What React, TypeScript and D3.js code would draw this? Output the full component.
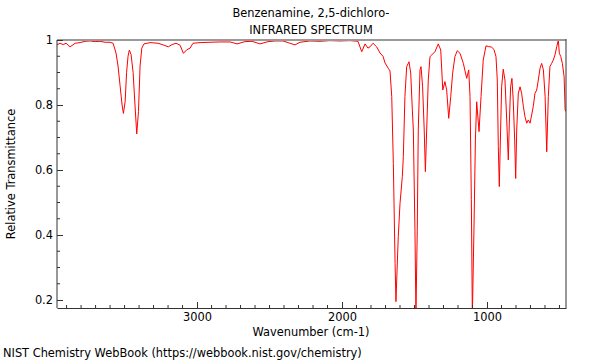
import React, { useEffect, useRef } from 'react';
import * as d3 from 'd3';

const TITLE_LINES = ['Benzenamine, 2,5-dichloro-', 'INFRARED SPECTRUM'];
const X_LABEL = 'Wavenumber (cm-1)';
const Y_LABEL = 'Relative Transmittance';
const FOOTER = 'NIST Chemistry WebBook (https://webbook.nist.gov/chemistry)';

const X_TICKS = [3000, 2000, 1000];
const Y_TICKS = [0.2, 0.4, 0.6, 0.8, 1];

// wavenumber (cm-1)
const WAVENUMBERS = [
  3966, 3945, 3924, 3903, 3876, 3841, 3807, 3772, 3738, 3703, 3669, 3634, 3600, 3579, 3559, 3545,
  3531, 3517, 3508, 3496, 3486, 3476, 3467, 3455, 3441, 3428, 3416, 3404, 3393, 3381, 3366, 3324,
  3269, 3234, 3198, 3172, 3145, 3117, 3094, 3071, 3048, 3028, 2979, 2910, 2841, 2772, 2724, 2669,
  2621, 2566, 2510, 2462, 2407, 2359, 2324, 2290, 2221, 2152, 2083, 2014, 1945, 1890, 1864, 1841,
  1821, 1807, 1786, 1761, 1738, 1717, 1703, 1681, 1669, 1657, 1646, 1634, 1628, 1612, 1600, 1584,
  1577, 1566, 1554, 1538, 1526, 1515, 1508, 1497, 1490, 1481, 1474, 1462, 1455, 1444, 1433, 1425,
  1416, 1405, 1393, 1381, 1359, 1336, 1319, 1305, 1290, 1278, 1264, 1250, 1237, 1221, 1205, 1186,
  1163, 1140, 1126, 1117, 1108, 1101, 1090, 1080, 1071, 1055, 1041, 1026, 1007, 991, 968, 952,
  938, 929, 922, 915, 906, 899, 888, 876, 864, 853, 846, 837, 828, 819, 809, 802,
  795, 784, 772, 761, 749, 738, 726, 715, 703, 692, 681, 669, 657, 646, 634, 623,
  611, 599, 588, 577, 566, 554, 543, 531, 519, 508, 501, 491, 480, 468, 461, 455,
];

// relative transmittance at each wavenumber above
const TRANSMITTANCE = [
  0.985, 0.99, 0.986, 0.99, 0.979, 0.99, 0.992, 0.996, 0.997, 0.995, 0.996, 0.993, 0.993, 0.99, 0.96, 0.92,
  0.86, 0.8, 0.774, 0.81, 0.9, 0.95, 0.969, 0.955, 0.9, 0.8, 0.711, 0.78, 0.92, 0.975, 0.988, 0.992,
  0.99, 0.985, 0.979, 0.986, 0.99, 0.984, 0.959, 0.97, 0.975, 0.99, 0.992, 0.993, 0.994, 0.994, 0.988, 0.995,
  0.996, 0.988, 0.995, 0.997, 0.997, 0.99, 0.985, 0.993, 0.997, 0.996, 0.998, 0.997, 0.998, 0.996, 0.964, 0.988,
  0.975, 0.979, 0.99, 0.979, 0.96, 0.95, 0.929, 0.913, 0.905, 0.826, 0.62, 0.313, 0.195, 0.395, 0.497, 0.58,
  0.641, 0.826, 0.918, 0.933, 0.898, 0.785, 0.723, 0.415, 0.16, 0.415, 0.723, 0.908, 0.918, 0.856, 0.723, 0.595,
  0.723, 0.877, 0.949, 0.954, 0.964, 0.988, 0.969, 0.846, 0.872, 0.846, 0.759, 0.826, 0.898, 0.949, 0.967, 0.959,
  0.928, 0.882, 0.908, 0.826, 0.51, 0.15, 0.415, 0.692, 0.81, 0.718, 0.826, 0.938, 0.982, 0.98, 0.978, 0.971,
  0.949, 0.877, 0.672, 0.549, 0.723, 0.856, 0.91, 0.877, 0.754, 0.631, 0.744, 0.856, 0.882, 0.815, 0.692, 0.574,
  0.723, 0.836, 0.856, 0.836, 0.795, 0.764, 0.744, 0.754, 0.744, 0.769, 0.795, 0.836, 0.846, 0.877, 0.913, 0.928,
  0.908, 0.826, 0.656, 0.826, 0.918, 0.928, 0.938, 0.954, 0.979, 1.0, 0.959, 0.949, 0.928, 0.887, 0.785, 0.78,
];

const WIDTH = 600;
const HEIGHT = 360;
const PLOT = { left: 57, right: 566, top: 40, bottom: 308 };
const FONT = 'DejaVu Sans, sans-serif';
const FS = 11.4;

const App = () => {
  const svgRef = useRef<SVGSVGElement | null>(null);

  useEffect(() => {
    if (!svgRef.current) return;
    const svg = d3.select(svgRef.current);
    svg.selectAll('*').remove();

    const xScale = d3.scaleLinear().domain([3966, 455]).range([PLOT.left, PLOT.right]);
    const yScale = d3.scaleLinear().domain([0.2, 1]).range([300, 40]);

    // clip so deep bands get cut at the frame
    svg.append('defs').append('clipPath').attr('id', 'plot-clip')
      .append('rect')
      .attr('x', PLOT.left)
      .attr('y', PLOT.top)
      .attr('width', PLOT.right - PLOT.left)
      .attr('height', PLOT.bottom - PLOT.top);

    const points = WAVENUMBERS.map((w, i) => [w, TRANSMITTANCE[i]] as [number, number]);
    const line = d3.line<[number, number]>()
      .x(d => xScale(d[0]))
      .y(d => yScale(d[1]));

    svg.append('path')
      .datum(points)
      .attr('clip-path', 'url(#plot-clip)')
      .attr('fill', 'none')
      .attr('stroke', '#ff0000')
      .attr('stroke-width', 1)
      .attr('d', line);

    // frame: gray top, dark right/left/bottom
    svg.append('line')
      .attr('x1', PLOT.left).attr('x2', PLOT.right)
      .attr('y1', PLOT.top).attr('y2', PLOT.top)
      .attr('stroke', '#9a9a9a').attr('stroke-width', 2);
    svg.append('line')
      .attr('x1', PLOT.right).attr('x2', PLOT.right)
      .attr('y1', PLOT.top - 1).attr('y2', PLOT.bottom)
      .attr('stroke', '#333').attr('stroke-width', 1);

    const xAxis = d3.axisBottom(xScale)
      .tickValues(X_TICKS)
      .tickSizeInner(-6)
      .tickSizeOuter(0)
      .tickPadding(5)
      .tickFormat(d => `${d}`);
    const gx = svg.append('g')
      .attr('transform', `translate(0, ${PLOT.bottom})`)
      .call(xAxis);
    gx.select('.domain').attr('stroke', '#333');
    gx.selectAll('line').attr('stroke', '#333');
    gx.selectAll('text').attr('font-family', FONT).attr('font-size', FS).attr('fill', '#000');

    // minor x ticks every 100
    svg.append('g').selectAll('line')
      .data(d3.range(3900, 400, -100).filter(v => v % 1000 !== 0))
      .enter()
      .append('line')
      .attr('x1', d => xScale(d)).attr('x2', d => xScale(d))
      .attr('y1', PLOT.bottom).attr('y2', PLOT.bottom - 3)
      .attr('stroke', '#333');

    const yAxis = d3.axisLeft(yScale)
      .tickValues(Y_TICKS)
      .tickSizeInner(-6)
      .tickSizeOuter(0)
      .tickPadding(4)
      .tickFormat(d => `${d}`);
    const gy = svg.append('g')
      .attr('transform', `translate(${PLOT.left}, 0)`)
      .call(yAxis);
    gy.select('.domain').attr('d', `M0,${PLOT.top}V${PLOT.bottom}`).attr('stroke', '#333');
    gy.selectAll('line').attr('stroke', '#333');
    gy.selectAll('text').attr('font-family', FONT).attr('font-size', FS).attr('fill', '#000');

    // minor y ticks every 0.05
    svg.append('g').selectAll('line')
      .data(d3.range(0.25, 1, 0.05).filter(v => Math.abs(v * 5 - Math.round(v * 5)) > 0.01))
      .enter()
      .append('line')
      .attr('x1', PLOT.left).attr('x2', PLOT.left + 3)
      .attr('y1', d => yScale(d)).attr('y2', d => yScale(d))
      .attr('stroke', '#333');

    // titles and labels
    svg.append('text')
      .attr('x', 311).attr('y', 17)
      .attr('text-anchor', 'middle')
      .attr('font-family', FONT).attr('font-size', FS)
      .text(TITLE_LINES[0]);
    svg.append('text')
      .attr('x', 311).attr('y', 34)
      .attr('text-anchor', 'middle')
      .attr('font-family', FONT).attr('font-size', FS)
      .text(TITLE_LINES[1]);

    svg.append('text')
      .attr('x', 311).attr('y', 336)
      .attr('text-anchor', 'middle')
      .attr('font-family', FONT).attr('font-size', FS)
      .text(X_LABEL);

    svg.append('text')
      .attr('transform', 'rotate(-90)')
      .attr('x', -174).attr('y', 15)
      .attr('text-anchor', 'middle')
      .attr('font-family', FONT).attr('font-size', FS)
      .text(Y_LABEL);

    svg.append('text')
      .attr('x', 3).attr('y', 357)
      .attr('font-family', FONT).attr('font-size', FS)
      .text(FOOTER);
  }, []);

  return (
    <svg
      ref={svgRef}
      width={WIDTH}
      height={HEIGHT}
      style={{ position: 'absolute', left: 0, top: 0, background: '#fff' }}
    />
  );
};

export default App;
